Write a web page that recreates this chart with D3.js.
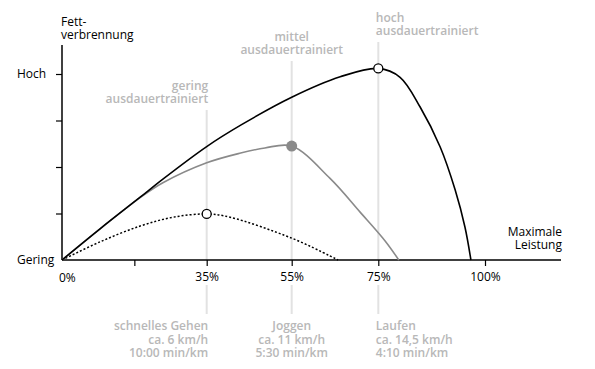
<!DOCTYPE html>
<html>
<head>
<meta charset="utf-8">
<script src="https://cdn.jsdelivr.net/npm/d3@7"></script>
<style>
  body { margin: 0; background: #fff; }
  text { font-family: "Open Sans", sans-serif; }
</style>
</head>
<body>
<div id="chart"></div>
<script>
// x values are % of max. Leistung, y values are Fettverbrennung (0 = gering, 4 = hoch)
const xTicks = [0, 17.5, 35, 55, 75, 100];
const xTickLabels = ['0%', '', '35%', '55%', '75%', '100%'];
const yTicks = [1, 2, 3, 4];
const yLabels = [[0, 'Gering'], [4, 'Hoch']];

const highCurve = [[0, 0], [9.2, 0.67], [18.9, 1.35], [24.4, 1.74], [35, 2.44], [43, 2.9], [55, 3.5],
  [66.2, 3.94], [75, 4.12], [80.1, 3.93], [84.8, 3.29], [89.5, 2.43], [93, 1.51], [95.3, 0.71], [96.7, 0]];
const midCurve = [[0, 0], [9.2, 0.67], [18.9, 1.34], [24.4, 1.66], [35, 2.09], [43, 2.3], [48.7, 2.41],
  [55, 2.45], [63.8, 1.76], [70.8, 1.03], [76.6, 0.41], [79.8, 0]];
const lowCurve = [[0, 0], [9.2, 0.39], [18.9, 0.73], [26.9, 0.92], [35, 0.99], [40.5, 0.92], [55, 0.47],
  [63.8, 0.09], [65.7, 0]];

const levelPcts = [35, 55, 75];
const levelNames = ['gering', 'mittel', 'hoch'];
const activities = ['schnelles Gehen', 'Joggen', 'Laufen'];
const speeds = ['ca. 6 km/h', 'ca. 11 km/h', 'ca. 14,5 km/h'];
const paces = ['10:00 min/km', '5:30 min/km', '4:10 min/km'];

const width = 595;
const height = 369;
const labelGrey = '#b8b8b8';

const svg = d3.select('#chart')
  .append('svg')
  .attr('width', width)
  .attr('height', height);

// the x axis of the original is not evenly spaced
const x = d3.scaleLinear()
  .domain([0, 35, 55, 75, 100])
  .range([62, 206.7, 291.7, 378.3, 485]);
const y = d3.scaleLinear()
  .domain([0, 4])
  .range([260, 74]);

const anchors = ['end', 'middle', 'start'];
const shifts = [1.5, 0, -2.5];

// grey guide lines
const guideTops = [110, 61, 42];
levelPcts.forEach((p, i) => {
  svg.append('line')
    .attr('x1', x(p)).attr('x2', x(p))
    .attr('y1', guideTops[i]).attr('y2', y(0))
    .attr('stroke', '#e2e2e2').attr('stroke-width', 2);
  svg.append('line')
    .attr('x1', x(p)).attr('x2', x(p))
    .attr('y1', 285).attr('y2', 314)
    .attr('stroke', '#e2e2e2').attr('stroke-width', 2);

  const top = svg.append('text')
    .attr('x', x(p) + shifts[i])
    .attr('y', guideTops[i] - 20)
    .attr('text-anchor', anchors[i])
    .attr('fill', labelGrey)
    .attr('font-size', 12)
    .attr('font-weight', 600);
  top.append('tspan').attr('x', x(p) + shifts[i]).text(levelNames[i]);
  top.append('tspan').attr('x', x(p) + shifts[i]).attr('dy', 13).text('ausdauertrainiert');

  const bottom = svg.append('text')
    .attr('x', x(p) + shifts[i])
    .attr('y', 330)
    .attr('text-anchor', anchors[i])
    .attr('fill', labelGrey)
    .attr('font-size', 12)
    .attr('font-weight', 600);
  bottom.append('tspan').attr('x', x(p) + shifts[i]).text(activities[i]);
  bottom.append('tspan').attr('x', x(p) + shifts[i]).attr('dy', 14).text(speeds[i]);
  bottom.append('tspan').attr('x', x(p) + shifts[i]).attr('dy', 13).text(paces[i]);
});

// axes
const xAxis = svg.append('g')
  .attr('transform', `translate(0,${y(0)})`)
  .call(d3.axisBottom(x)
    .tickValues(xTicks.slice(1))
    .tickSize(6)
    .tickPadding(6)
    .tickFormat((d) => xTickLabels[xTicks.indexOf(d)]));
xAxis.select('.domain').remove();
xAxis.selectAll('line').attr('stroke', '#000').attr('stroke-width', 1.2);
xAxis.selectAll('text').attr('font-size', 12).attr('fill', '#000').attr('font-family', null);

svg.append('text')
  .attr('x', x(0) - 3)
  .attr('y', y(0) + 22)
  .attr('font-size', 12)
  .text(xTickLabels[0]);

svg.append('line')
  .attr('x1', x(0)).attr('x2', 561)
  .attr('y1', y(0)).attr('y2', y(0))
  .attr('stroke', '#000').attr('stroke-width', 1.5);

const yAxis = svg.append('g')
  .attr('transform', `translate(${x(0)},0)`)
  .call(d3.axisLeft(y).tickValues(yTicks).tickSize(6).tickFormat(''));
yAxis.select('.domain').remove();
yAxis.selectAll('line').attr('stroke', '#000').attr('stroke-width', 1.2);

svg.append('line')
  .attr('x1', x(0)).attr('x2', x(0))
  .attr('y1', 45).attr('y2', y(0))
  .attr('stroke', '#000').attr('stroke-width', 1.5);

svg.selectAll('.ylab')
  .data(yLabels)
  .enter().append('text')
    .attr('class', 'ylab')
    .attr('x', 17)
    .attr('y', (d) => y(d[0]))
    .attr('dy', '0.35em')
    .attr('font-size', 12)
    .text((d) => d[1]);

const yTitle = svg.append('text').attr('font-size', 12);
yTitle.append('tspan').attr('x', 61).attr('y', 26).text('Fett-');
yTitle.append('tspan').attr('x', 61).attr('dy', 13).text('verbrennung');

const xTitle = svg.append('text').attr('font-size', 12).attr('text-anchor', 'end');
xTitle.append('tspan').attr('x', 562).attr('y', 236).text('Maximale');
xTitle.append('tspan').attr('x', 562).attr('dy', 13).text('Leistung');

// curves
const line = d3.line()
  .x((d) => x(d[0]))
  .y((d) => y(d[1]))
  .curve(d3.curveCatmullRom.alpha(0.5));

svg.append('path')
  .datum(lowCurve)
  .attr('d', line)
  .attr('fill', 'none')
  .attr('stroke', '#000')
  .attr('stroke-width', 1.5)
  .attr('stroke-dasharray', '2,2');

svg.append('path')
  .datum(midCurve)
  .attr('d', line)
  .attr('fill', 'none')
  .attr('stroke', '#8a8a8a')
  .attr('stroke-width', 1.6);

svg.append('path')
  .datum(highCurve)
  .attr('d', line)
  .attr('fill', 'none')
  .attr('stroke', '#000')
  .attr('stroke-width', 1.6);

// peak markers
const peaks = [lowCurve, midCurve, highCurve].map((c) => c.reduce((a, b) => (b[1] > a[1] ? b : a)));
svg.selectAll('.peak')
  .data(peaks)
  .enter().append('circle')
    .attr('class', 'peak')
    .attr('cx', (d) => x(d[0]))
    .attr('cy', (d) => y(d[1]))
    .attr('r', (d, i) => (i === 1 ? 5.5 : 4.5))
    .attr('fill', (d, i) => (i === 1 ? '#8a8a8a' : '#fff'))
    .attr('stroke', (d, i) => (i === 1 ? 'none' : '#000'))
    .attr('stroke-width', 1.3);
</script>
</body>
</html>
